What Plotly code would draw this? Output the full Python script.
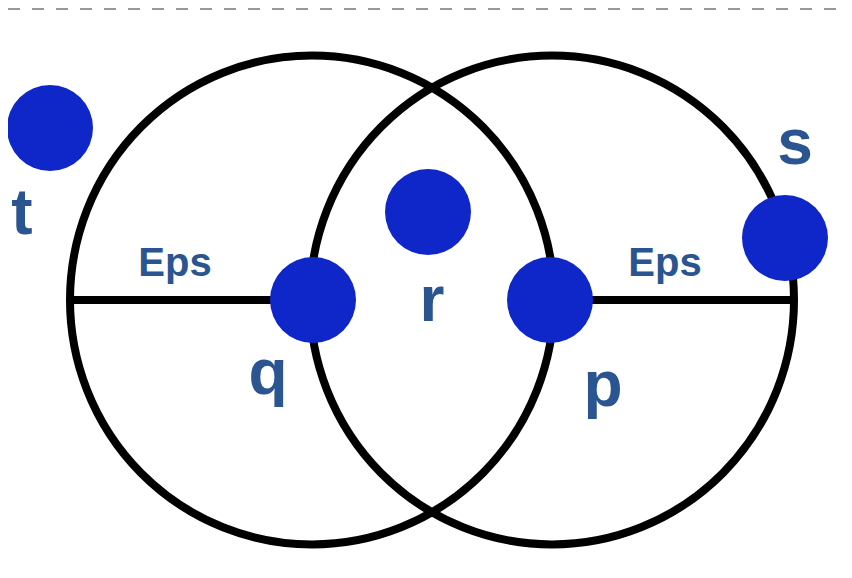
import plotly.graph_objects as go

DOT, TXT = "#0f27c9", "#2a5590"

# circle centres (q and p) and radius, in picture units
centers = {"q": (304, 292), "p": (552 - 8, 292)}
radius = 242

point_names = ["t", "r", "q", "p", "s"]
point_x = [42, 420, 305, 542, 777]
point_y = [120, 204, 292, 292, 230]

label_x = [14, 424, 260, 595, 787]
label_y = [210, 297, 370, 382, 140]

eps_x = [167, 657]
eps_y = [258, 258]

fig = go.Figure()

shapes = []
for cx, cy in centers.values():
    shapes.append(dict(type="circle", x0=cx - radius, x1=cx + radius,
                       y0=cy - radius * 1.01, y1=cy + radius * 1.01,
                       layer="below", line=dict(color="black", width=8)))
# eps radius lines
shapes.append(dict(type="line", x0=centers["q"][0] - radius, x1=centers["q"][0],
                   y0=292, y1=292, layer="below", line=dict(color="black", width=8)))
shapes.append(dict(type="line", x0=centers["p"][0], x1=centers["p"][0] + radius,
                   y0=292, y1=292, layer="below", line=dict(color="black", width=8)))
# top dashed border
shapes.append(dict(type="line", x0=0, x1=852, y0=0, y1=0,
                   line=dict(color="#999999", width=4, dash="dash")))

fig.add_trace(go.Scatter(x=point_x, y=point_y, mode="markers",
                         marker=dict(size=86, color=DOT, line=dict(width=0)),
                         hoverinfo="text", text=point_names))
fig.add_trace(go.Scatter(x=label_x, y=label_y, mode="text", text=point_names,
                         textfont=dict(size=64, color=TXT, family="Liberation Sans",
                                       weight="bold")))
fig.add_trace(go.Scatter(x=eps_x, y=eps_y, mode="text", text=["Eps", "Eps"],
                         textfont=dict(size=40, color=TXT, family="Liberation Sans",
                                       weight="bold")))

fig.update_layout(
    width=852, height=578, margin=dict(l=0, r=0, t=0, b=0),
    plot_bgcolor="white", paper_bgcolor="white", showlegend=False,
    shapes=shapes,
    xaxis=dict(range=[0, 852], visible=False),
    yaxis=dict(range=[578, 0], visible=False),
)
fig.write_html("out.html")
